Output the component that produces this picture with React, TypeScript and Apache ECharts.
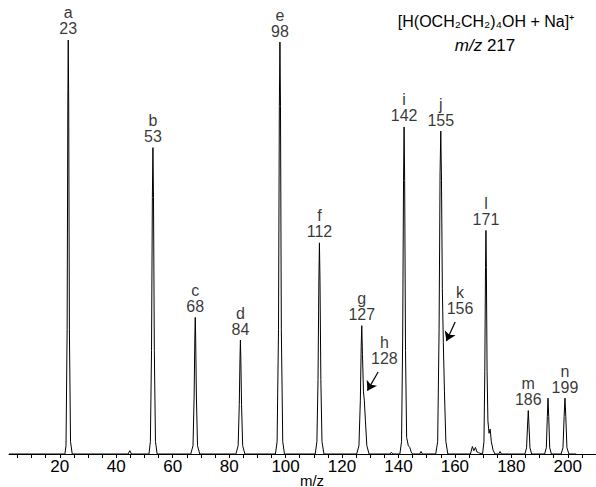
import React, { useEffect, useRef } from "react";
import * as echarts from "echarts";

// Spectrum trace: [m/z, relative intensity]
const tracePoints: [number, number][] = [
  [2, 0], [21.8, 0], [22.2, 2], [22.6, 30], [22.85, 85], [23, 100], [23.15, 85], [23.4, 30], [23.8, 3], [24.4, 0],
  [44.2, 0], [44.8, 0.8], [45.4, 0],
  [51.6, 0], [52.1, 3], [52.5, 25], [52.8, 62], [53, 74], [53.2, 62], [53.5, 25], [53.9, 3], [54.5, 0],
  [66.4, 0], [67.2, 2], [67.6, 14], [67.85, 28], [68, 33], [68.15, 28], [68.4, 14], [68.8, 2], [69.6, 0],
  [82.4, 0], [83.2, 2], [83.6, 12], [83.85, 23], [84, 27.5], [84.15, 23], [84.4, 12], [84.8, 2], [85.6, 0],
  [96.4, 0], [97, 3], [97.5, 30], [97.8, 84], [98, 99.5], [98.2, 84], [98.5, 30], [99, 3], [99.6, 0],
  [110.5, 0], [111.1, 3], [111.5, 18], [111.8, 42], [112, 51], [112.2, 42], [112.5, 18], [112.9, 3], [113.6, 0],
  [125.2, 0], [126, 2], [126.5, 13], [126.8, 26], [127, 31], [127.25, 24], [127.6, 15], [127.9, 13], [128.3, 8], [128.8, 2], [129.6, 0],
  [137, 0], [137.5, 0.4], [138, 0],
  [140.5, 0], [141.1, 3], [141.5, 28], [141.8, 66], [142, 79], [142.2, 66], [142.5, 25], [142.9, 4], [143.5, 2], [144, 1.6], [144.5, 0.5], [145, 0],
  [147.5, 0], [148, 0.6], [148.5, 0],
  [153.2, 0], [153.9, 3], [154.4, 30], [154.75, 68], [155, 78], [155.25, 66], [155.55, 40], [155.9, 27], [156.3, 15], [156.8, 3], [157.5, 0],
  [165.5, 0], [166.2, 1.8], [166.7, 0.8], [167.3, 1.6], [167.8, 0.5], [168.4, 0.3],
  [169.8, 0], [170.3, 3], [170.6, 20], [170.85, 45], [171, 54], [171.15, 45], [171.4, 20], [171.7, 8], [172.1, 5], [172.5, 6], [172.9, 3], [173.5, 1], [174.2, 0],
  [175.5, 0], [176, 0.6], [176.5, 0],
  [184.8, 0], [185.4, 1.5], [185.75, 7], [186, 10.5], [186.25, 7], [186.6, 1.5], [187.2, 0],
  [191.8, 0], [192.4, 1.5], [192.75, 9], [193, 13.5], [193.25, 9], [193.6, 1.5], [194.2, 0],
  [197.6, 0], [198.3, 1.5], [198.7, 9], [199, 13.5], [199.3, 9], [199.7, 1.5], [200.4, 0],
  [203, 0],
];

// Peak annotations
const peakLetters = ["a", "b", "c", "d", "e", "f", "g", "h", "i", "j", "k", "l", "m", "n"];
const peakMz = [23, 53, 68, 84, 98, 112, 127, 128, 142, 155, 156, 171, 186, 199];
const labelX = [23, 53, 68, 84, 98, 112, 127, 135, 142, 155, 161.8, 171, 186, 199];
const labelY = [100, 74, 33, 27.5, 99.5, 51, 31, 20.5, 79, 78, 32.5, 54, 10.5, 13.5];

// Arrows for shoulder peaks h and k: [fromX, fromY, toX, toY]
const arrowH = [132.8, 19.8, 129.0, 15.3];
const arrowK = [160.1, 31.9, 157.0, 27.3];

const xLabelValues = [20, 40, 60, 80, 100, 120, 140, 160, 180, 200];
const xTickValues = [5, 10, 15, 20, 25, 30, 35, 40, 45, 50, 55, 60, 65, 70, 75, 80, 85, 90, 95, 100,
  105, 110, 115, 120, 125, 130, 135, 140, 145, 150, 155, 160, 165, 170, 175, 180, 185, 190, 195, 200, 205];

const FONT = "'Liberation Sans', Arial, Helvetica, sans-serif";

export default function App() {
  const ref = useRef<HTMLDivElement>(null);
  useEffect(() => {
    if (!ref.current) return;
    const chart = echarts.init(ref.current, undefined, { renderer: "svg" });
    const labelData = peakLetters.map((l, i) => ({
      value: [labelX[i], labelY[i]],
      name: l,
      label: { formatter: `${l}\n${peakMz[i]}` },
    }));
    chart.setOption({
      animation: false,
      grid: { left: 9, right: 0, top: 40, bottom: 33, containLabel: false },
      xAxis: {
        type: "value",
        min: 2,
        max: 210,
        axisLine: { show: true, lineStyle: { color: "#000", width: 1 } },
        axisTick: { show: true, length: 4, customValues: xTickValues, lineStyle: { color: "#000", width: 1 } },
        axisLabel: {
          customValues: xLabelValues,
          color: "#000",
          fontSize: 17,
          lineHeight: 15,
          fontFamily: FONT,
          margin: 5,
        },
        splitLine: { show: false },
      },
      yAxis: { type: "value", min: 0, max: 100, show: false, splitLine: { show: false } },
      graphic: [
        {
          type: "text",
          x: 486,
          y: 21,
          style: {
            text: "[H(OCH₂CH₂)₄OH + Na]⁺",
            fill: "#000",
            font: `16px ${FONT}`,
            textAlign: "center",
            textVerticalAlign: "middle",
          },
        },
        {
          type: "text",
          x: 485,
          y: 45,
          style: {
            text: "{i|m/z} 217",
            fill: "#000",
            font: `17px ${FONT}`,
            textAlign: "center",
            textVerticalAlign: "middle",
            rich: { i: { fontStyle: "italic", fontSize: 17, fontFamily: FONT } },
          },
        },
        {
          type: "text",
          x: 312,
          y: 480,
          style: {
            text: "m/z",
            fill: "#000",
            font: `15px ${FONT}`,
            lineHeight: 13,
            textAlign: "center",
            textVerticalAlign: "middle",
          },
        },
      ],
      series: [
        {
          type: "line",
          data: tracePoints,
          symbol: "none",
          showSymbol: false,
          color: "#000",
          lineStyle: { color: "#000", width: 1 },
          markLine: {
            silent: true,
            symbol: ["none", "arrow"],
            symbolSize: 9,
            label: { show: false },
            itemStyle: { color: "#000" },
            lineStyle: { color: "#000", width: 1.2, type: "solid" },
            data: [
              [{ coord: [arrowH[0], arrowH[1]] }, { coord: [arrowH[2], arrowH[3]] }],
              [{ coord: [arrowK[0], arrowK[1]] }, { coord: [arrowK[2], arrowK[3]] }],
            ],
          },
          z: 2,
        },
        {
          type: "scatter",
          data: labelData,
          symbolSize: 0.01,
          itemStyle: { color: "rgba(0,0,0,0)" },
          label: {
            show: true,
            position: "top",
            distance: 3,
            color: "#000",
            fontSize: 16,
            lineHeight: 16,
            fontFamily: FONT,
            align: "center",
          },
          z: 3,
        },
      ],
    });
    return () => chart.dispose();
  }, []);
  return (
    <div
      ref={ref}
      style={{ position: "absolute", left: 0, top: 0, width: 596, height: 487 }}
    />
  );
}
